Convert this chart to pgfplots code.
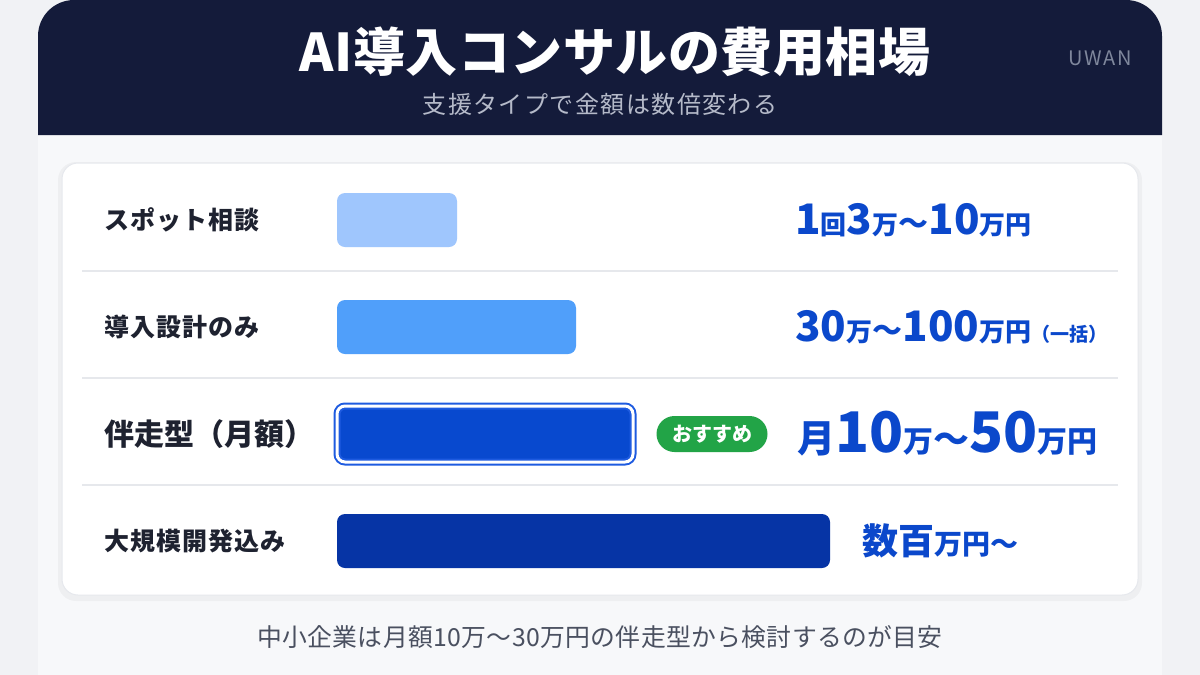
\documentclass[border=0pt]{standalone}
\usepackage{fontspec}
\setmainfont{Noto Sans CJK JP}
\usepackage{pgfplots}
\pgfplotsset{compat=1.18}
\definecolor{bgc}{HTML}{F1F2F5}
\definecolor{panel}{HTML}{F7F8FA}
\definecolor{navy}{HTML}{141B3A}
\definecolor{subg}{HTML}{B5BAC9}
\definecolor{uwan}{HTML}{7F879C}
\definecolor{cardb}{HTML}{E6E8ED}
\definecolor{sepc}{HTML}{E6E8EC}
\definecolor{labc}{HTML}{1E2230}
\definecolor{cA}{HTML}{9FC6FD}
\definecolor{cB}{HTML}{509FFA}
\definecolor{cC}{HTML}{0849CF}
\definecolor{cCo}{HTML}{1E5BE0}
\definecolor{cD}{HTML}{0634A5}
\definecolor{valc}{HTML}{0B48CB}
\definecolor{pill}{HTML}{22A447}
\definecolor{footc}{HTML}{4A5060}
\newcommand\fs[1]{\fontsize{#1pt}{#1pt}\selectfont}
\begin{document}
\begin{tikzpicture}
\begin{scope}[x=0.5pt,y=-0.5pt]
\path[use as bounding box] (0,0) rectangle (1200,675);
\fill[bgc] (0,0) rectangle (1200,675);
\fill[panel] (38,720) -- (38,36) arc[start angle=180,end angle=270,radius=36] -- (1126,0) arc[start angle=270,end angle=360,radius=36] -- (1162,720) -- cycle;
\fill[navy] (38,135) -- (38,36) arc[start angle=180,end angle=270,radius=36] -- (1126,0) arc[start angle=270,end angle=360,radius=36] -- (1162,135) -- cycle;
\node[text=white, font=\fs{26}\bfseries] at (615,52) {\addfontfeatures{LetterSpace=1}AI導入コンサルの費用相場};
\node[text=subg, font=\fs{12}] at (600,104) {\addfontfeatures{LetterSpace=6}支援タイプで金額は数倍変わる};
\node[text=uwan, font=\fs{10}, anchor=east] at (1139,58) {\addfontfeatures{LetterSpace=8}UWAN};
\fill[black, opacity=0.035, rounded corners=9pt] (58,162) rectangle (1142,601);
\filldraw[fill=white, draw=cardb, line width=0.5pt, rounded corners=8pt] (62,163) rectangle (1138,595);
\foreach \yy in {271,378,485} {\draw[sepc, line width=0.7pt] (82,\yy) -- (1118,\yy);}
\node[text=footc, font=\fs{12.4}] at (600,637) {\addfontfeatures{LetterSpace=1.5}中小企業は月額10万～30万円の伴走型から検討するのが目安};
\end{scope}
\begin{axis}[at={(168.5pt,-83.25pt)}, anchor=north west, scale only axis,
  width=400pt, height=214pt, xmin=0, xmax=8, ymin=-0.5, ymax=3.5, y dir=reverse,
  axis line style={draw=none}, xtick=\empty, ytick={0,1,2,3}, major tick length=0pt,
  yticklabels={{\fs{12.5}\bfseries\addfontfeatures{LetterSpace=4}スポット相談},{\fs{12.5}\bfseries\addfontfeatures{LetterSpace=4}導入設計のみ},{\fs{15}\bfseries 伴走型（月額）},{\fs{12.5}\bfseries\addfontfeatures{LetterSpace=4}大規模開発込み}},
  yticklabel style={anchor=west, xshift=-120pt, text=labc}, clip=false]
\addplot[xbar, bar width=27pt, bar shift=0pt, fill=cA, draw=none, rounded corners=4pt] coordinates {(1.20,0)};
\addplot[xbar, bar width=27pt, bar shift=0pt, fill=cB, draw=none, rounded corners=4pt] coordinates {(2.39,1)};
\addplot[xbar, bar width=28pt, bar shift=0pt, fill=cC, draw=cCo, double=white, double distance=1.5pt, line width=1pt, rounded corners=4pt] coordinates {(2.96,2)};
\addplot[xbar, bar width=27pt, bar shift=0pt, fill=cD, draw=none, rounded corners=4pt] coordinates {(4.93,3)};
\node[fill=pill, rounded corners=9pt, minimum width=55.5pt, minimum height=18pt, inner sep=0pt, text=white, font=\fs{10}\bfseries] at (axis cs:3.75,2) {おすすめ};
\node[anchor=west, inner sep=0pt, text=valc, font=\bfseries] at (axis cs:4.58,0) {\fs{21}1\fs{13}回\fs{21}3\fs{13}万\fs{15}～\fs{21}10\fs{13}万円};
\node[anchor=west, inner sep=0pt, text=valc, font=\bfseries] at (axis cs:4.58,1) {\fs{21}30\fs{13}万\fs{15}～\fs{21}100\fs{13}万円\fs{9.5}（一括）};
\node[anchor=west, inner sep=0pt, text=valc, font=\bfseries] at (axis cs:4.6,2) {\fs{19}月\fs{28}10\fs{15}万\fs{18}～\fs{28}50\fs{15}万円};
\node[anchor=west, inner sep=0pt, text=valc, font=\bfseries] at (axis cs:5.25,3) {\fs{18}数百\fs{14}万円～};
\end{axis}
\end{tikzpicture}
\end{document}
